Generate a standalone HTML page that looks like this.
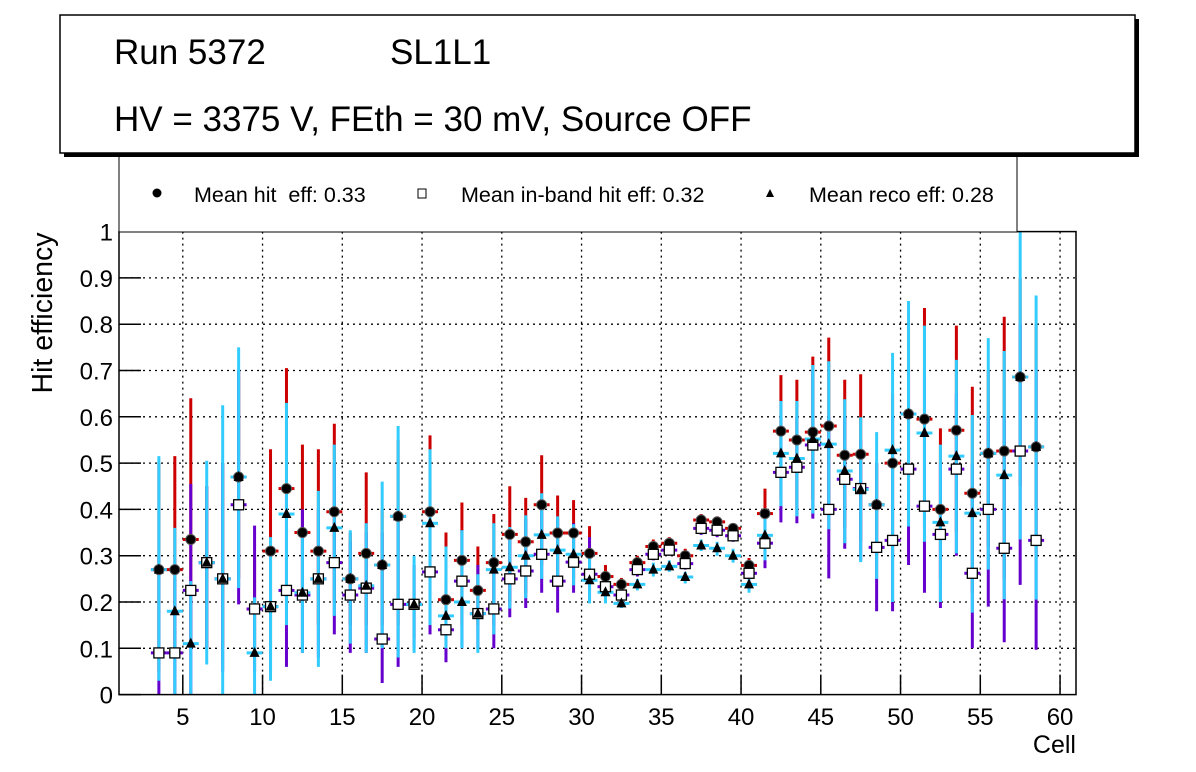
<!DOCTYPE html>
<html><head><meta charset="utf-8"><style>
html,body{margin:0;padding:0;background:#fff;}
svg{display:block;font-family:"Liberation Sans",Arial,sans-serif;}
</style></head><body>
<svg id="chart" width="1196" height="772" viewBox="0 0 1196 772">
<rect x="0" y="0" width="1196" height="772" fill="#fff"/>
<g id="grid"></g>
<g id="errs"></g>
<g id="marks"></g>
<g id="axes"></g>
<rect x="119" y="153" width="898" height="79" fill="#fff" stroke="#000" stroke-width="1"/>
<g>
<circle cx="157" cy="193" r="4.5" fill="#000"/>
<text x="194" y="202" font-size="21.5" xml:space="preserve">Mean hit  eff: 0.33</text></g>
<g>
<rect x="418" y="189" width="8" height="9" fill="#fff" stroke="#000" stroke-width="1"/>
<text x="461" y="202" font-size="21.5">Mean in-band hit eff: 0.32</text></g>
<g>
<polygon points="770,189 766,197 774,197" fill="#000"/>
<text x="809" y="202" font-size="21.5">Mean reco eff: 0.28</text></g>
<rect x="64" y="19" width="1075" height="138" fill="#000"/>
<rect x="60" y="15" width="1075" height="138" fill="#fff" stroke="#000" stroke-width="1.5"/>
<text x="114" y="64" font-size="35">Run 5372</text>
<text x="390" y="64" font-size="35">SL1L1</text>
<text x="114" y="131" font-size="35">HV = 3375 V, FEth = 30 mV, Source OFF</text>
<text transform="translate(52,313) rotate(-90)" text-anchor="middle" font-size="28.5">Hit efficiency</text>
<text x="1076" y="753" text-anchor="end" font-size="25">Cell</text>
</svg>
<script>
const cells=[3.5,4.5,5.5,6.5,7.5,8.5,9.5,10.5,11.5,12.5,13.5,14.5,15.5,16.5,17.5,18.5,19.5,20.5,21.5,22.5,23.5,24.5,25.5,26.5,27.5,28.5,29.5,30.5,31.5,32.5,33.5,34.5,35.5,36.5,37.5,38.5,39.5,40.5,41.5,42.5,43.5,44.5,45.5,46.5,47.5,48.5,49.5,50.5,51.5,52.5,53.5,54.5,55.5,56.5,57.5,58.5];
const hitEff=[.27,.27,.335,.285,.25,.47,.185,.31,.445,.35,.31,.395,.25,.305,.28,.385,.195,.395,.205,.29,.225,.285,.346,.33,.41,.349,.349,.305,.255,.238,.285,.32,.327,.3,.377,.373,.359,.279,.391,.569,.55,.567,.58,.517,.519,.41,.5,.606,.595,.4,.571,.435,.521,.526,.686,.535];
const hitHi=[.5,.515,.64,.45,.5,.7,.3,.53,.705,.54,.53,.585,.35,.48,.4,.55,.28,.56,.35,.415,.32,.39,.45,.425,.517,.43,.42,.364,.28,.252,.3,.335,.34,.315,.39,.385,.37,.295,.445,.69,.68,.73,.771,.68,.692,.5,.65,.8,.835,.575,.797,.665,.7,.816,.9,.8];
const hitLo=[.05,.1,.1,.1,.1,.25,.1,.1,.2,.2,.15,.2,.15,.15,.15,.15,.12,.25,.12,.15,.15,.15,.2,.22,.28,.25,.25,.22,.22,.22,.27,.3,.31,.285,.36,.355,.345,.26,.3,.42,.4,.42,.4,.36,.33,.3,.3,.4,.36,.25,.35,.22,.32,.25,.45,.3];
const inbandEff=[.09,.09,.225,.285,.25,.41,.185,.19,.225,.215,.25,.285,.215,.23,.12,.195,.195,.265,.14,.245,.175,.185,.25,.267,.303,.245,.286,.26,.233,.215,.27,.303,.312,.283,.359,.355,.343,.262,.327,.48,.491,.539,.4,.465,.445,.318,.333,.487,.407,.346,.487,.262,.4,.316,.526,.333];
const inbandHi=[.3,.25,.455,.45,.5,.7,.365,.3,.45,.4,.4,.5,.33,.35,.35,.4,.28,.45,.25,.355,.28,.3,.35,.38,.42,.38,.37,.34,.25,.23,.28,.315,.325,.295,.37,.365,.355,.275,.38,.6,.6,.7,.6,.6,.55,.5,.6,.7,.7,.5,.65,.5,.6,.6,.8,.7];
const inbandLo=[0,0,0,.1,.05,.195,.05,.05,.06,.09,.08,.13,.09,.09,.025,.06,.1,.13,.07,.1,.1,.1,.167,.187,.22,.177,.22,.2,.21,.2,.255,.29,.3,.27,.345,.34,.33,.25,.273,.372,.37,.38,.251,.315,.29,.18,.18,.28,.22,.187,.3,.1,.19,.113,.237,.097];
const recoEff=[.27,.18,.11,.285,.25,.47,.09,.19,.39,.22,.25,.36,.25,.235,.28,.385,.195,.37,.17,.2,.175,.27,.275,.3,.345,.312,.303,.247,.221,.197,.238,.27,.277,.254,.322,.316,.3,.238,.344,.521,.51,.552,.541,.483,.443,.41,.528,.606,.565,.372,.515,.392,.521,.474,.686,.535];
const recoHi=[.515,.36,.245,.505,.625,.75,.21,.34,.63,.36,.44,.54,.355,.37,.46,.58,.3,.53,.32,.355,.26,.37,.362,.387,.435,.385,.368,.305,.24,.21,.25,.285,.29,.265,.335,.33,.315,.25,.39,.634,.634,.712,.72,.638,.599,.567,.738,.85,.797,.54,.723,.604,.77,.742,1.0,.862];
const recoLo=[.03,0,0,.065,0,.23,0,.03,.15,.09,.06,.17,.11,.09,.1,.08,.09,.15,.1,.1,.09,.13,.186,.208,.25,.24,.236,.197,.197,.187,.225,.255,.265,.24,.31,.3,.285,.22,.29,.407,.385,.391,.357,.327,.286,.25,.2,.363,.33,.2,.305,.177,.27,.206,.335,.205];
const xTicks=[5,10,15,20,25,30,35,40,45,50,55,60];
const yTicks=[0,0.1,0.2,0.3,0.4,0.5,0.6,0.7,0.8,0.9,1];
const yTickLabels=["0","0.1","0.2","0.3","0.4","0.5","0.6","0.7","0.8","0.9","1"];

const NS="http://www.w3.org/2000/svg";
const X0=119,X1=1076,Y0=694.6,Y1=231.6,XMIN=1,XMAX=61;
function sx(v){return X0+(v-XMIN)/(XMAX-XMIN)*(X1-X0);}
function sy(v){return Y0+(v-0)*(Y1-Y0);}
function mk(tag,attrs,parent){const e=document.createElementNS(NS,tag);for(const k in attrs)e.setAttribute(k,attrs[k]);parent.appendChild(e);return e;}
const grid=document.getElementById('grid'),axes=document.getElementById('axes'),errs=document.getElementById('errs'),marks=document.getElementById('marks');

xTicks.forEach((t,i)=>{
  const x=sx(t);
  const g=mk('line',{x1:x,x2:x,y1:Y1,y2:Y0,stroke:'#000','stroke-width':1.3,'stroke-dasharray':'2,4'},grid);
  
  
  const tk=mk('line',{x1:x,x2:x,y1:Y0,y2:Y0-20,stroke:'#000','stroke-width':1.5},axes);
  
  
  const lb=mk('text',{x:x,y:725,'text-anchor':'middle','font-size':24},axes);
  lb.textContent=String(t);
  
  
});
yTicks.forEach((t,i)=>{
  const y=sy(t);
  if(t>0&&t<1){
    const g=mk('line',{x1:X0,x2:X1,y1:y,y2:y,stroke:'#000','stroke-width':1.3,'stroke-dasharray':'2,4'},grid);
    
    
  }
  const tk=mk('line',{x1:X0,x2:X0+22,y1:y,y2:y,stroke:'#000','stroke-width':1.5},axes);
  
  
  const lb=mk('text',{x:113,y:y+9,'text-anchor':'end','font-size':24},axes);
  lb.textContent=yTickLabels[i];
  
  
});
const fr=mk('rect',{x:X0,y:Y1,width:X1-X0,height:Y0-Y1,fill:'none',stroke:'#000','stroke-width':1.5},axes);



const hw=(sx(2)-sx(1))/2;
function errBars(vals,hi,lo,color,name){
  cells.forEach((c,i)=>{
    const x=sx(c);
    const v=mk('line',{x1:x,x2:x,y1:sy(Math.min(hi[i],1)),y2:sy(Math.max(lo[i],0)),stroke:color,'stroke-width':3},errs);
    
    
    const h=mk('line',{x1:x-hw,x2:x+hw,y1:sy(vals[i]),y2:sy(vals[i]),stroke:color,'stroke-width':3},errs);
    
    
  });
}
errBars(hitEff,hitHi,hitLo,'#cc0000','hit');
errBars(inbandEff,inbandHi,inbandLo,'#6600cc','inband');
errBars(recoEff,recoHi,recoLo,'#33ccff','reco');

cells.forEach((c,i)=>{
  const x=sx(c);
  const ci=mk('circle',{cx:x,cy:sy(hitEff[i]),r:5,fill:'#000',stroke:'#555','stroke-width':1},marks);
  
  
  const y2=sy(inbandEff[i]);
  const sq=mk('rect',{x:x-5,y:y2-5,width:10,height:10,fill:'#fff',stroke:'#000','stroke-width':1.3},marks);
  
  
  const y3=sy(recoEff[i]);
  const tr=mk('polygon',{points:`${x},${y3-6} ${x-5},${y3+4} ${x+5},${y3+4}`,fill:'#000'},marks);
  
  
});
</script>
</body></html>
